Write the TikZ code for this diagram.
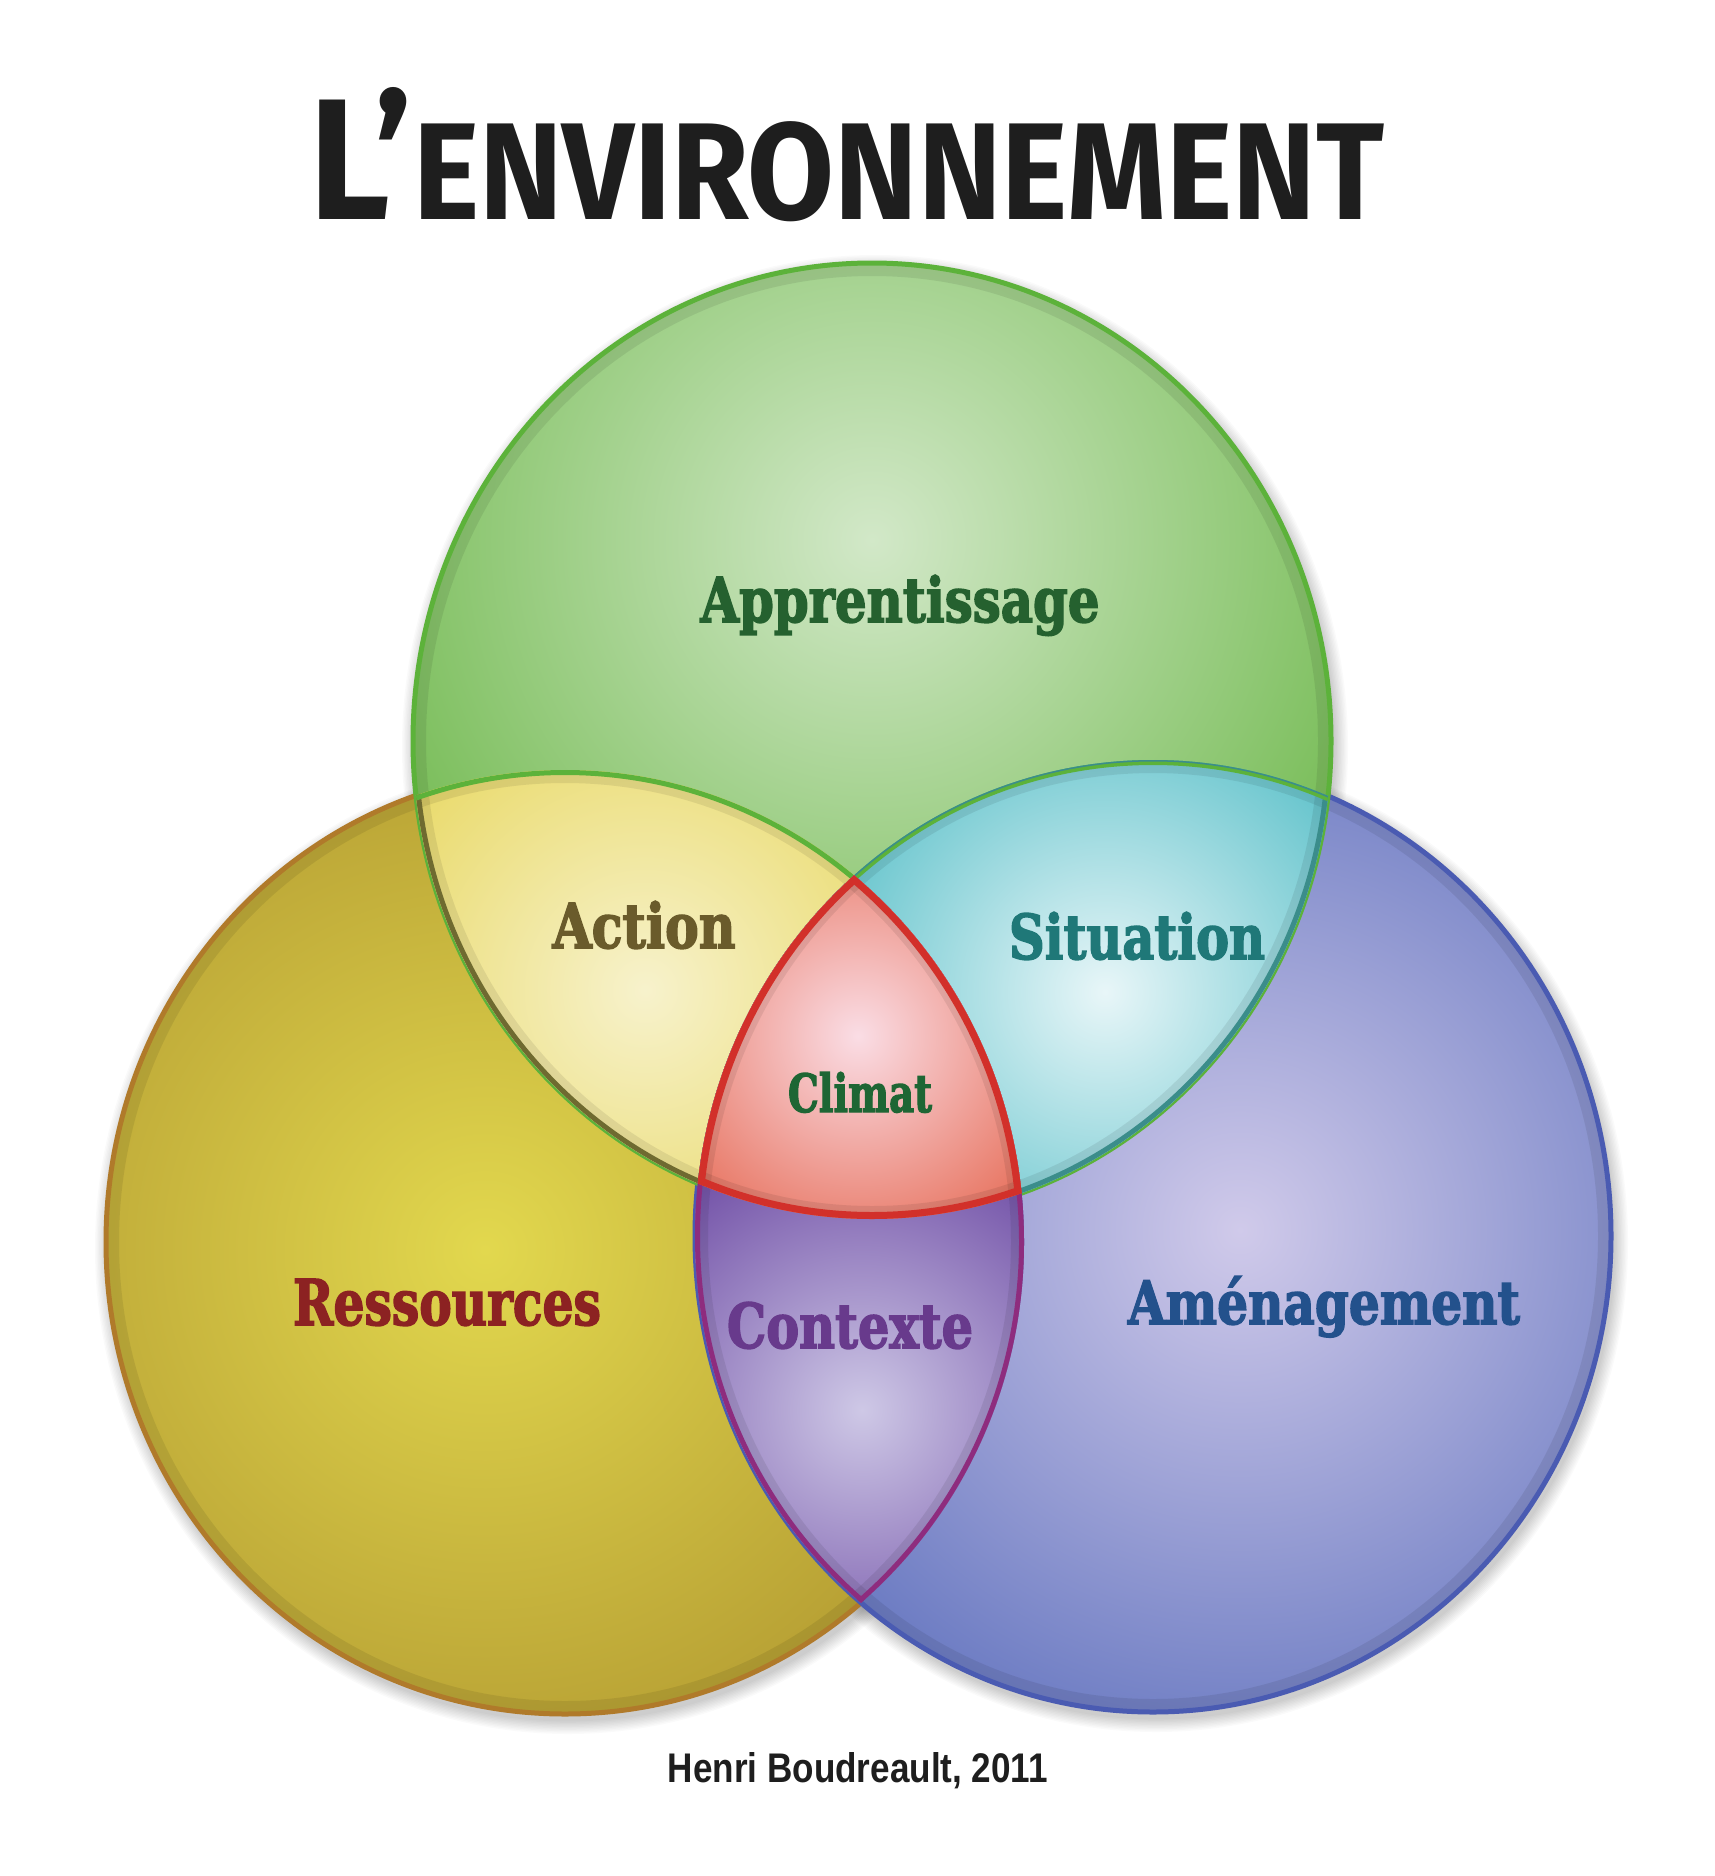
\documentclass[tikz,border=0pt]{standalone}
\usepackage{fontspec}
\usepackage{graphicx}
\newfontfamily\titlefont{Fira Sans}
\newfontfamily\labfont{DejaVu Serif Condensed}[BoldFeatures={FakeBold=2.5}]
\newfontfamily\credfont{Liberation Sans}
\definecolor{gIn}{HTML}{D2E8C8}
\definecolor{gEdge}{HTML}{6EB84B}
\definecolor{gLine}{HTML}{5CB23A}
\definecolor{yIn}{HTML}{E2D84E}
\definecolor{yEdge}{HTML}{B49C32}
\definecolor{yLine}{HTML}{B07A2A}
\definecolor{bIn}{HTML}{D0CAEA}
\definecolor{bEdge}{HTML}{6A7AC2}
\definecolor{bLine}{HTML}{4A5BB2}
\definecolor{aIn}{HTML}{F7F2CC}
\definecolor{aEdge}{HTML}{E8D862}
\definecolor{aLine}{HTML}{6F6A30}
\definecolor{sIn}{HTML}{E8F6F8}
\definecolor{sEdge}{HTML}{55BEC7}
\definecolor{sLine}{HTML}{3B8D8B}
\definecolor{cIn}{HTML}{FADDE5}
\definecolor{cEdge}{HTML}{E66C56}
\definecolor{cLine}{HTML}{D2302A}
\definecolor{xIn}{HTML}{CEC8E6}
\definecolor{xEdge}{HTML}{7656AA}
\definecolor{xLine}{HTML}{8E2C7E}
\definecolor{tApp}{HTML}{25612F}
\definecolor{tAct}{HTML}{6A5B2B}
\definecolor{tSit}{HTML}{1F7878}
\definecolor{tCli}{HTML}{1E6634}
\definecolor{tRes}{HTML}{8C2222}
\definecolor{tCon}{HTML}{683A8C}
\definecolor{tAme}{HTML}{23518C}
\definecolor{tTitle}{HTML}{1E1E1E}
\def\Gc{(872,741) ellipse [x radius=459pt, y radius=478pt]}
\def\Yc{(565,1242) ellipse [x radius=459pt, y radius=472pt]}
\def\Bc{(1153,1236) ellipse [x radius=458pt, y radius=476pt]}
\newcommand\lab[7]{\node[lbl, text=#6] (#1) at (#2,#3) {\resizebox{#4pt}{#5pt}{\labfont\bfseries #7}};}
\begin{document}
\begin{tikzpicture}[x=1pt,y=-1pt,
  lbl/.style={anchor=base, inner sep=0pt},
  rim/.style={black, opacity=0.08, line width=26pt},
  shad/.style={black, opacity=0.02}]
\useasboundingbox (0,0) rectangle (1715,1876);
\fill[white] (0,0) rectangle (1715,1876);
% soft drop shadows
\foreach \k in {1,...,10}{
  \fill[shad] (875,747) ellipse [x radius=459pt+\k*1.4pt, y radius=478pt+\k*1.4pt];
  \fill[shad] (568,1248) ellipse [x radius=459pt+\k*1.4pt, y radius=472pt+\k*1.4pt];
  \fill[shad] (1156,1242) ellipse [x radius=458pt+\k*1.4pt, y radius=476pt+\k*1.4pt];
}
% yellow circle
\begin{scope}
  \clip \Yc;
  \fill[yEdge] \Yc;
  \shade[inner color=yIn, outer color=yEdge] (485,1250) circle (560pt);
  \draw[rim] \Yc;
\end{scope}
\draw[yLine, line width=5pt] \Yc;
% blue circle
\begin{scope}
  \clip \Bc;
  \fill[bEdge] \Bc;
  \shade[inner color=bIn, outer color=bEdge] (1240,1230) circle (540pt);
  \draw[rim] \Bc;
\end{scope}
\draw[bLine, line width=5pt] \Bc;
% green circle
\begin{scope}
  \clip \Gc;
  \fill[gEdge] \Gc;
  \shade[inner color=gIn, outer color=gEdge] (872,540) circle (600pt);
  \draw[rim] \Gc;
\end{scope}
\draw[gLine, line width=5pt] \Gc;
% Action (green and yellow)
\begin{scope}
  \clip \Gc; \clip \Yc;
  \fill[aEdge] \Yc;
  \shade[inner color=aIn, outer color=aEdge] (645,990) circle (330pt);
  \draw[rim] \Gc; \draw[rim] \Yc;
  \draw[aLine, line width=10pt] \Gc;
  \draw[gLine, line width=10pt] \Yc;
\end{scope}
% Situation (green and blue)
\begin{scope}
  \clip \Gc; \clip \Bc;
  \fill[sEdge] \Bc;
  \shade[inner color=sIn, outer color=sEdge] (1105,992) circle (330pt);
  \draw[rim] \Gc; \draw[rim] \Bc;
  \draw[sLine, line width=10pt] \Gc;
  \draw[gLine, line width=10pt] \Bc;
  \draw[sLine, line width=3pt] \Bc;
\end{scope}
% Contexte (yellow and blue)
\begin{scope}
  \clip \Yc; \clip \Bc;
  \fill[xEdge] \Bc;
  \shade[inner color=xIn, outer color=xEdge] (862,1410) circle (270pt);
  \draw[rim] \Yc; \draw[rim] \Bc;
  \draw[xLine, line width=10pt] \Yc;
  \draw[xLine, line width=10pt] \Bc;
\end{scope}
% Climat (all three)
\begin{scope}
  \clip \Gc; \clip \Yc; \clip \Bc;
  \fill[cEdge] \Gc;
  \shade[inner color=cIn, outer color=cEdge] (858,1036) circle (240pt);
  \draw[rim] \Gc; \draw[rim] \Yc; \draw[rim] \Bc;
  \draw[cLine, line width=14pt] \Gc;
  \draw[cLine, line width=14pt] \Yc;
  \draw[cLine, line width=14pt] \Bc;
\end{scope}
% labels
\lab{app}{900}{622}{399}{47}{tApp}{Apprentissage}
\lab{act}{644}{948}{183}{47}{tAct}{Action}
\lab{sit}{1137}{959}{256}{47}{tSit}{Situation}
\lab{cli}{860}{1112}{144}{40}{tCli}{Climat}
\lab{res}{447}{1325}{308}{46}{tRes}{Ressources}
\lab{con}{850}{1348}{246}{46}{tCon}{Contexte}
\lab{ame}{1324}{1324}{392}{48}{tAme}{Aménagement}
% title and credit
\node[lbl, text=tTitle] (title) at (847,219)
  {\resizebox{1074pt}{132pt}{\titlefont\bfseries{\fontsize{40}{40}\selectfont L’}{\fontsize{32}{32}\selectfont ENVIRONNEMENT}}};
\node[lbl, text=tTitle] (credit) at (858,1782)
  {\resizebox{380pt}{30pt}{\credfont\bfseries Henri Boudreault, 2011}};
\end{tikzpicture}
\end{document}
